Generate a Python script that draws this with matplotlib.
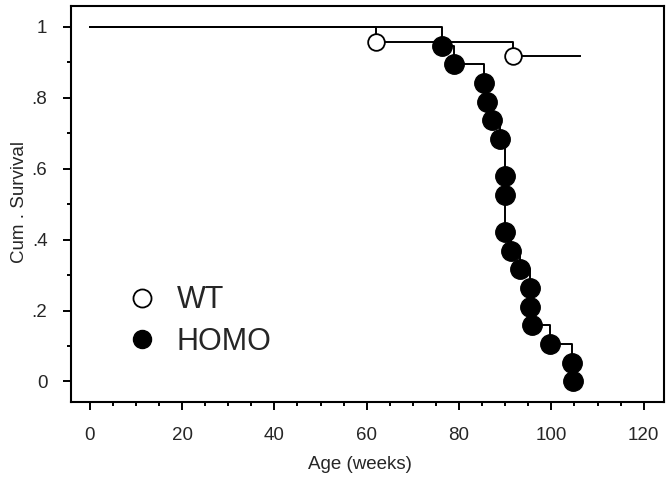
import matplotlib
matplotlib.use("Agg")
import matplotlib.pyplot as plt
from matplotlib.ticker import MultipleLocator, FuncFormatter
from matplotlib.lines import Line2D

plt.rcParams['font.family'] = ['Liberation Sans', 'DejaVu Sans']

# Courbes de Kaplan-Meier
wt_temps = [62.0, 91.6]
wt_survie = [0.958, 0.917]
wt_fin = 106.2

homo_temps = [76.3, 79.0, 85.3, 86.0, 87.1, 88.9, 90.0, 90.0, 90.0, 91.2,
              93.2, 95.3, 95.3, 95.7, 99.6, 104.4, 104.7]
homo_survie = [0.947, 0.895, 0.842, 0.789, 0.737, 0.684, 0.579, 0.526, 0.421, 0.368,
               0.316, 0.263, 0.211, 0.158, 0.105, 0.053, 0.0]

texte = '#262626'

fig = plt.figure(figsize=(6.72, 4.8), dpi=100)
ax = fig.add_axes([0.1057, 0.1625, 0.8824, 0.825])

# marches (escaliers) qui partent de t=0, S=1
x_wt = [0] + wt_temps + [wt_fin]
y_wt = [1.0] + wt_survie + [wt_survie[-1]]
ax.step(x_wt, y_wt, where='post', color='black', lw=1.4)
ax.plot(wt_temps, wt_survie, 'o', ms=12, mfc='white', mec='black', mew=1.3)

x_h = [0] + homo_temps
y_h = [1.0] + homo_survie
ax.step(x_h, y_h, where='post', color='black', lw=1.4)
ax.plot(homo_temps, homo_survie, 'o', ms=14, mfc='black', mec='black')

ax.set_xlim(-4.05, 124.4)
ax.set_ylim(-0.058, 1.059)
ax.xaxis.set_major_locator(MultipleLocator(20))
ax.xaxis.set_minor_locator(MultipleLocator(5))
ax.yaxis.set_major_locator(MultipleLocator(0.2))
ax.yaxis.set_minor_locator(MultipleLocator(0.1))


def format_y(v, pos):
    if abs(v) < 1e-9:
        return '0'
    if abs(v - 1) < 1e-9:
        return '1'
    return ('%.1f' % v).lstrip('0')


ax.yaxis.set_major_formatter(FuncFormatter(format_y))

for s in ax.spines.values():
    s.set_linewidth(1.5)
ax.tick_params(which='major', direction='out', length=6, width=1.4,
               labelsize=13.5, labelcolor=texte)
ax.tick_params(which='minor', direction='out', length=3, width=1.4)
ax.tick_params(axis='y', which='major', pad=11)
ax.tick_params(axis='x', which='major', pad=12)

ax.set_xlabel('Age (weeks)', fontsize=13.5, color=texte)
ax.set_ylabel('Cum . Survival', fontsize=13.5, color=texte)
ax.xaxis.set_label_coords(0.487, -0.136)
ax.yaxis.set_label_coords(-0.072, 0.505)

# légende manuelle
poignees = [Line2D([], [], ls='none', marker='o', ms=13, mfc='white', mec='black', mew=1.3),
            Line2D([], [], ls='none', marker='o', ms=13, mfc='black', mec='black')]
leg = ax.legend(poignees, ['WT', 'HOMO'], loc='lower left', bbox_to_anchor=(0.047, 0.044),
                frameon=False, fontsize=22, handletextpad=0.65, labelspacing=0.38,
                handlelength=1.0)
for t in leg.get_texts():
    t.set_color(texte)

fig.savefig('out.png', dpi=100)
